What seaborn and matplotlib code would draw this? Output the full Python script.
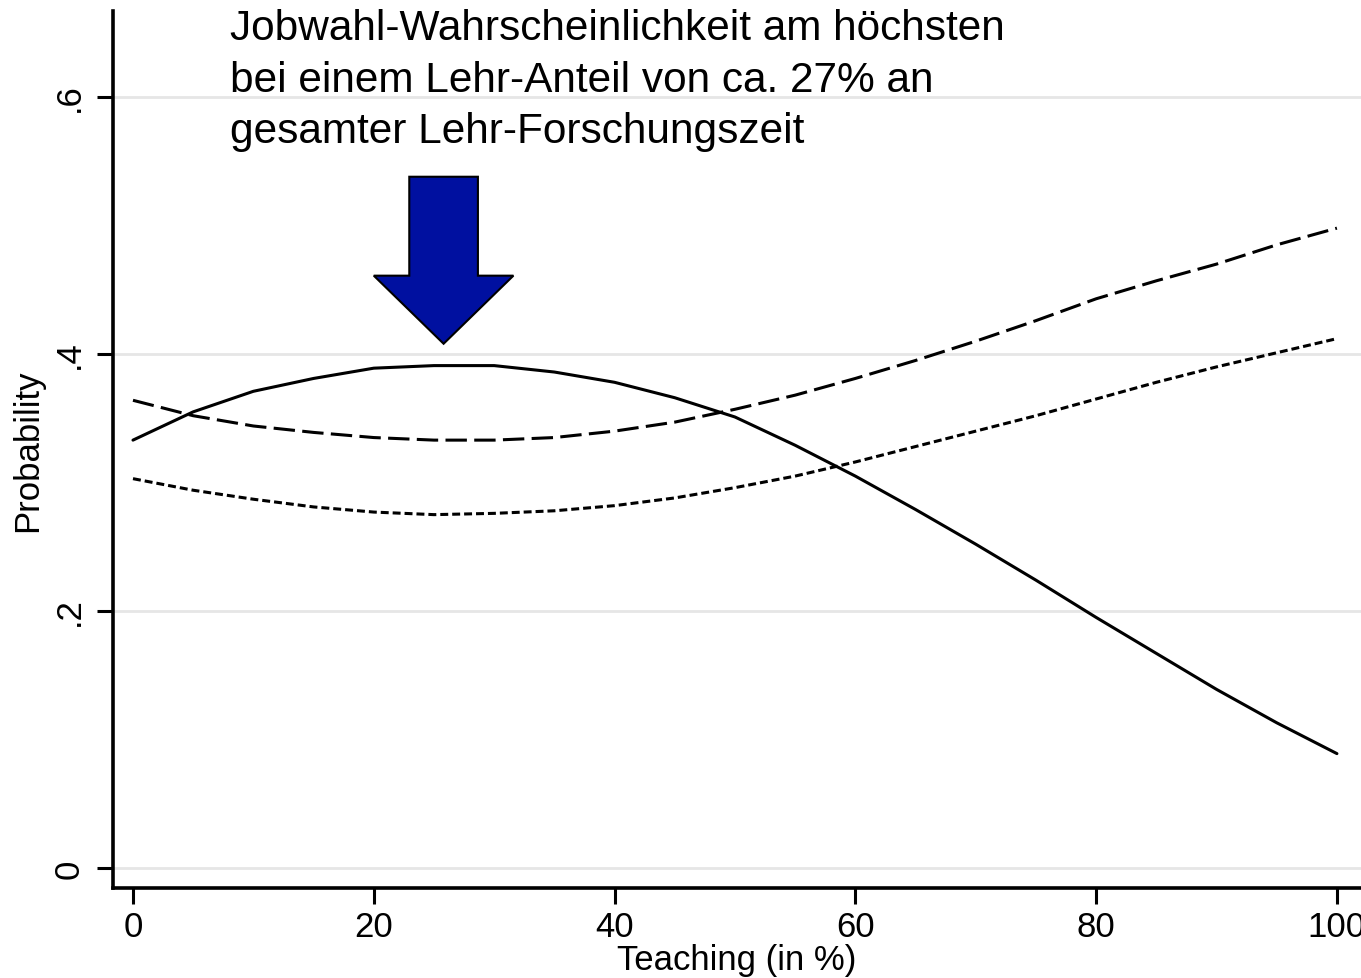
import seaborn as sns
import matplotlib.pyplot as plt
import pandas as pd

# teaching share (in %) and predicted probabilities
teaching = [0, 5, 10, 15, 20, 25, 30, 35, 40, 45, 50,
            55, 60, 65, 70, 75, 80, 85, 90, 95, 100]
prob_solid = [0.333, 0.355, 0.371, 0.381, 0.389, 0.391, 0.391, 0.386, 0.378, 0.366, 0.351,
              0.329, 0.305, 0.279, 0.252, 0.224, 0.195, 0.167, 0.139, 0.113, 0.089]
prob_long = [0.364, 0.352, 0.344, 0.339, 0.335, 0.333, 0.333, 0.335, 0.340, 0.347, 0.357,
             0.368, 0.381, 0.395, 0.410, 0.426, 0.443, 0.457, 0.470, 0.485, 0.498]
prob_short = [0.303, 0.294, 0.287, 0.281, 0.277, 0.275, 0.276, 0.278, 0.282, 0.288, 0.296,
              0.305, 0.316, 0.328, 0.340, 0.352, 0.365, 0.378, 0.390, 0.401, 0.412]

series_names = ["Job A", "Job B", "Job C"]
y_ticks = [0, 0.2, 0.4, 0.6]
y_ticklabels = ["0", ".2", ".4", ".6"]
x_ticks = [0, 20, 40, 60, 80, 100]

note = ("Jobwahl-Wahrscheinlichkeit am höchsten\n"
        "bei einem Lehr-Anteil von ca. 27% an\n"
        "gesamter Lehr-Forschungszeit")
peak_x = 25.8
peak_y = 0.408

df = pd.DataFrame({
    "teaching": teaching * 3,
    "prob": prob_solid + prob_long + prob_short,
    "job": [n for n in series_names for _ in teaching],
})

sns.set_theme(style="white")
plt.rcParams["font.family"] = ["Liberation Sans", "DejaVu Sans"]

fig = plt.figure(figsize=(13.61, 9.79), dpi=100)
ax = fig.add_axes([113 / 1361, 90 / 979, 1248 / 1361, 877 / 979])

sns.lineplot(
    data=df,
    x="teaching",
    y="prob",
    hue="job",
    style="job",
    palette=["black"] * 3,
    dashes={"Job A": "", "Job B": (7, 2.4), "Job C": (2.6, 1.3)},
    linewidth=2.2,
    legend=False,
    ax=ax,
)

ax.set_xlim(-1.66, 102.0)
ax.set_ylim(-0.0156, 0.667)
ax.set_xticks(x_ticks)
ax.set_yticks(y_ticks)
ax.set_yticklabels(y_ticklabels, rotation=90, va="center")
ax.grid(axis="y", color="#e6e6e6", linewidth=2)
ax.set_axisbelow(True)

for side in ["top", "right"]:
    ax.spines[side].set_visible(False)
for side in ["left", "bottom"]:
    ax.spines[side].set_color("black")
    ax.spines[side].set_linewidth(2.6)

ax.tick_params(axis="both", colors="black", labelsize=25, length=11.5, width=2.2,
               direction="out", left=True, bottom=True)
ax.tick_params(axis="y", pad=8)
ax.tick_params(axis="x", pad=4)

ax.set_xlabel("Teaching (in %)", fontsize=25, color="black", labelpad=0)
ax.set_ylabel("Probability", fontsize=25, color="black", labelpad=6)

# annotation text and block arrow
ax.text(8.06, 0.669, note, fontsize=30.5, color="black", va="top", ha="left",
        linespacing=1.37)
ax.arrow(peak_x, 0.538, 0, peak_y - 0.538, width=5.7, head_width=11.6,
         head_length=0.053, length_includes_head=True,
         facecolor="#0010a0", edgecolor="black", linewidth=1.5, zorder=5)

fig.savefig("out.png", dpi=100)
